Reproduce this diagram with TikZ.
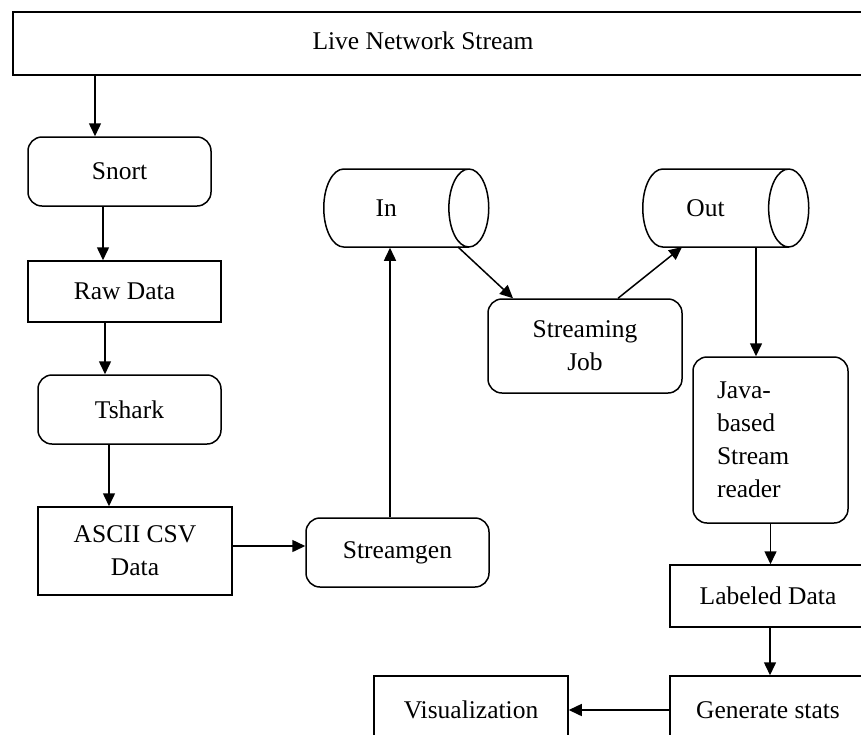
\documentclass[tikz,border=0pt]{standalone}
\usepackage{fontspec}
\setmainfont{Liberation Serif}
\usetikzlibrary{arrows.meta,shapes.geometric}

\begin{document}
\begin{tikzpicture}[x=1pt, y=-1pt, line width=1.5pt,
        every node/.style={font=\fontsize{25.5}{33}\selectfont},
        box/.style={draw, rectangle, align=center, inner sep=0pt},
        rbox/.style={box, rounded corners=14pt},
        drum/.style={draw, cylinder, shape aspect=0.52, inner xsep=0pt, inner ysep=30pt, anchor=west},
        arr/.style={-{Triangle[length=13pt,width=12pt]}}]
        \clip (0,0) rectangle (861,734);

        \node[box, anchor=north west, minimum width=900pt, minimum height=63pt] (live) at (12,11) {};
        \node (livetxt) at (423,41) {Live Network Stream};

        \node[rbox, minimum width=183pt, minimum height=69pt] (snort) at (119.5,171.5) {Snort};
        \node[box, minimum width=193pt, minimum height=61pt] (raw) at (124.5,291.5) {Raw Data};
        \node[rbox, minimum width=183pt, minimum height=69pt] (tshark) at (129.5,409.5) {Tshark};
        \node[box, minimum width=194pt, minimum height=88pt] (csv) at (135,551) {ASCII CSV\\Data};
        \node[rbox, minimum width=183pt, minimum height=69pt] (gen) at (397.5,552.5) {Streamgen};

        \node[drum, minimum width=78pt, minimum height=165pt] (in) at (323,208) {In};
        \node[rbox, minimum width=194pt, minimum height=94pt] (job) at (585,346) {Streaming\\Job};
        \node[drum, minimum width=78pt, minimum height=166pt] (out) at (642,208) {Out};

        \node[rbox, minimum width=155pt, minimum height=166pt, text width=107pt, align=left] (java) at (770.5,440) {Java-\\based\\Stream\\reader};
        \node[box, minimum width=196pt, minimum height=62pt] (labeled) at (768,596) {Labeled Data};
        \node[box, minimum width=196pt, minimum height=68pt] (stats) at (768,710) {Generate stats};
        \node[box, minimum width=194pt, minimum height=68pt] (vis) at (471,710) {Visualization};

        % left column
        \draw[arr] ([xshift=-24.5pt]snort.north |- live.south) -- ([xshift=-24.5pt]snort.north);
        \draw[arr] ([xshift=-16.5pt]snort.south) -- ([xshift=-16.5pt]snort.south |- raw.north);
        \draw[arr] ([xshift=-19.5pt]raw.south) -- ([xshift=-19.5pt]raw.south |- tshark.north);
        \draw[arr] ([xshift=-20.5pt]tshark.south) -- ([xshift=-20.5pt]tshark.south |- csv.north);
        \draw[arr] ([yshift=5pt]csv.east) -- ([yshift=5pt]csv.east -| gen.west);

        % streaming part
        \draw[arr] ([xshift=-7.5pt]gen.north) -- ([xshift=-7.5pt]gen.north |- in.south);
        \draw[arr] ([xshift=135pt,yshift=-39pt]in.west) -- ([xshift=-72pt]job.north);
        \draw[arr] ([xshift=33pt]job.north) -- ([xshift=40pt,yshift=-39pt]out.west);
        \draw[arr] ([xshift=114pt,yshift=-39pt]out.west) -- ([xshift=114pt]out.west |- java.north);
        \draw[arr] (java.south) -- (java.south |- labeled.north);
        \draw[arr] ([xshift=2pt]labeled.south) -- ([xshift=2pt]labeled.south |- stats.north);
        \draw[arr] (stats.west) -- (vis.east);
    \end{tikzpicture}
\end{document}
